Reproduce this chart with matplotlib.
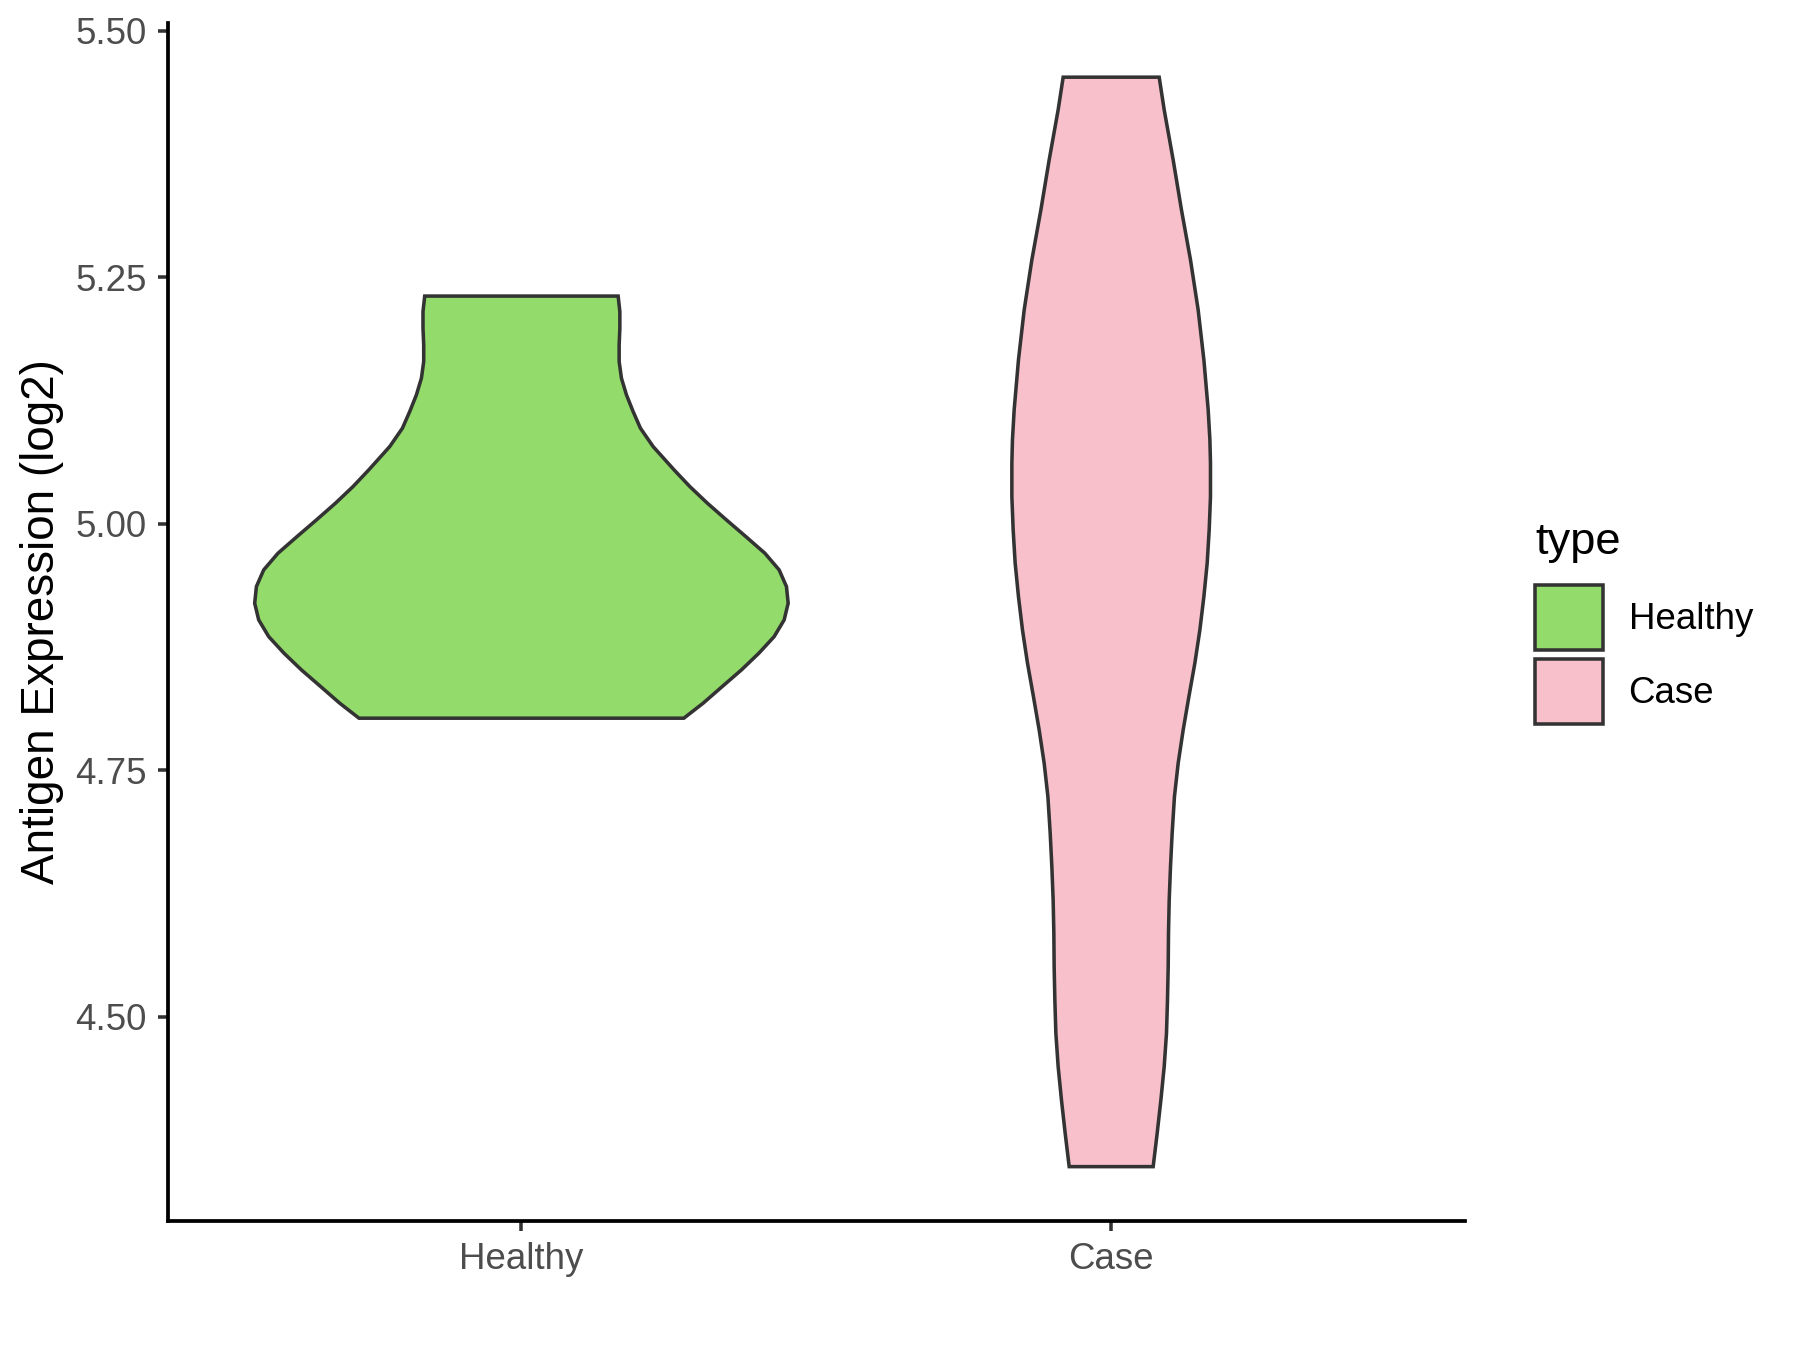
##################################################
## Violin plot: antigen expression, Healthy vs Case
##################################################
import numpy as np
import matplotlib
matplotlib.use("Agg")
import matplotlib.pyplot as plt
from matplotlib.patches import Patch

plt.rcParams['font.family'] = ['Liberation Sans', 'DejaVu Sans']

##################################################
## Data (violin outlines)
##################################################
categories = ["Healthy", "Case"]
fill_colors = ["#93DB6A", "#F7C0CB"]

# expression level (log2) and half-width of the violin at that level
healthy_y = [5.2310, 5.2153, 5.1984, 5.1815, 5.1646, 5.1477, 5.1308, 5.1139,
             5.0970, 5.0784, 5.0547, 5.0378, 5.0209, 5.0040, 4.9871, 4.9702,
             4.9533, 4.9364, 4.9195, 4.9026, 4.8856, 4.8688, 4.8519, 4.8349,
             4.8181, 4.8029]
healthy_w = [0.1640, 0.1669, 0.1669, 0.1657, 0.1657, 0.1696, 0.1781, 0.1894,
             0.2018, 0.2233, 0.2589, 0.2856, 0.3154, 0.3476, 0.3805, 0.4128,
             0.4370, 0.4494, 0.4523, 0.4455, 0.4285, 0.4026, 0.3731, 0.3403,
             0.3081, 0.2754]

case_y = [5.4530, 5.4199, 5.3692, 5.3184, 5.2677, 5.2170, 5.1663, 5.1156,
          5.0852, 5.0615, 5.0276, 4.9939, 4.9601, 4.9262, 4.8924, 4.8587,
          4.8248, 4.7910, 4.7572, 4.7234, 4.6862, 4.6524, 4.6186, 4.5848,
          4.5509, 4.5172, 4.4834, 4.4495, 4.4157, 4.3819, 4.3481]
case_w = [0.0814, 0.0899, 0.1051, 0.1192, 0.1345, 0.1475, 0.1572, 0.1645,
          0.1674, 0.1684, 0.1684, 0.1662, 0.1628, 0.1572, 0.1504, 0.1419,
          0.1318, 0.1221, 0.1136, 0.1073, 0.1034, 0.1006, 0.0984, 0.0972,
          0.0967, 0.0955, 0.0938, 0.0899, 0.0843, 0.0780, 0.0712]

y_ticks = [4.50, 4.75, 5.00, 5.25, 5.50]

##################################################
## Figure
##################################################
fig = plt.figure(figsize=(6, 4.5), dpi=300)
ax = fig.add_axes([0.0931, 0.0958, 0.8139 - 0.0931, 0.983 - 0.0958])

profiles = [(healthy_y, healthy_w), (case_y, case_w)]
for i, (yy, ww) in enumerate(profiles):
    pos = i + 1
    yy = np.array(yy)
    ww = np.array(ww)
    xs = np.concatenate([pos - ww, (pos + ww)[::-1]])
    ys = np.concatenate([yy, yy[::-1]])
    ax.fill(xs, ys, facecolor=fill_colors[i], edgecolor="#333333",
            linewidth=0.85, closed=True)

ax.set_xlim(0.4, 2.6)
ax.set_ylim(4.2933, 5.508)
ax.set_xticks([1, 2])
ax.set_xticklabels(categories)
ax.set_yticks(y_ticks)
ax.set_yticklabels(["%.2f" % t for t in y_ticks])

for side in ["top", "right"]:
    ax.spines[side].set_visible(False)
for side in ["left", "bottom"]:
    ax.spines[side].set_linewidth(0.9)
    ax.spines[side].set_color("black")

ax.tick_params(axis="both", length=2.4, width=0.85, color="#333333",
               labelcolor="#4D4D4D", labelsize=8.8, pad=2.6)
ax.set_ylabel("Antigen Expression (log2)", fontsize=11, color="black",
              labelpad=2.6)

# legend
handles = [Patch(facecolor=c, edgecolor="#333333", linewidth=0.85)
           for c in fill_colors]
leg = fig.legend(handles, categories, title="type", loc="upper left",
                 bbox_to_anchor=(1535 / 1800, 1 - 522 / 1350),
                 frameon=False, fontsize=8.8, title_fontsize=10.9,
                 handlelength=1.85, handleheight=2.33, labelspacing=0.26,
                 handletextpad=0.7, borderpad=0, borderaxespad=0)
leg._legend_box.align = "left"
leg._legend_box.sep = 5.3

plt.savefig("out.png", dpi=300)
